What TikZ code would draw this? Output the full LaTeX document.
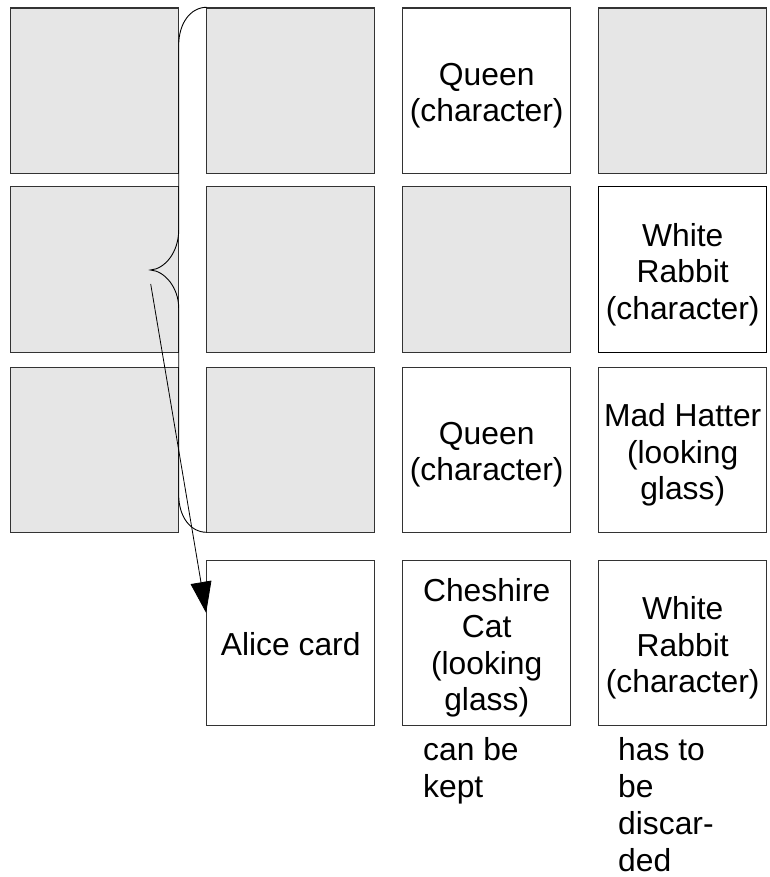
\documentclass[tikz,border=0pt]{standalone}
\usepackage{fontspec}
\setmainfont{Liberation Sans}
\usetikzlibrary{arrows.meta,calc}
\definecolor{cardgrey}{HTML}{E6E6E6}
\tikzset{
  card/.style={draw=black!80, line width=1.1pt, minimum width=168pt, minimum height=165.5pt,
    inner sep=0pt},
  cardtext/.style={align=center, inner sep=0pt, yshift=-5pt, font=\fontsize{31.8}{36.5}\selectfont},
  hidden/.style={card, fill=cardgrey},
  open/.style={card, fill=white},
  txt/.style={label={[cardtext]center:#1}},
  note/.style={inner sep=0pt, align=left, anchor=north west, font=\fontsize{31.8}{37}\selectfont},
  bracepath/.style={draw=black, line width=0.9pt},
  pointer/.style={draw=black, line width=0.8pt, -{Triangle[length=31pt,width=21pt]}}
}
\begin{document}
\begin{tikzpicture}[x=1pt,y=-1pt]
\useasboundingbox (0,0) rectangle (770,877);
% row 1
\node[hidden] (a1) at (94.3,90.8) {};
\node[hidden] (b1) at (290.7,90.8) {};
\node[open, txt={Queen\\(character)}] (c1) at (486.7,90.8) {};
\node[hidden] (d1) at (682.7,90.8) {};
% row 2
\node[hidden] (a2) at (94.3,269.5) {};
\node[hidden] (b2) at (290.7,269.5) {};
\node[hidden] (c2) at (486.7,269.5) {};
\node[open, draw=black, txt={White\\Rabbit\\(character)}] (d2) at (682.7,269.5) {};
% row 3
\node[hidden] (a3) at (94.3,449.8) {};
\node[hidden] (b3) at (290.7,449.8) {};
\node[open, txt={Queen\\(character)}] (c3) at (486.7,449.8) {};
\node[open, txt={Mad Hatter\\(looking\\glass)}] (d3) at (682.7,449.8) {};
% row 4
\node[open, label={[cardtext, yshift=4pt]center:Alice card}] (alice) at (290.7,642.9) {};
\node[open, txt={Cheshire\\Cat\\(looking\\glass)}] (c4) at (486.7,642.9) {};
\node[open, txt={White\\Rabbit\\(character)}] (d4) at (682.7,642.9) {};
% labels
\node[note] (keep) at (423,737) {can be\\kept};
\node[note] (discard) at (618,737) {has to\\be\\discar-\\ded};
% brace
\coordinate (btop) at (206.7,7.3);
\coordinate (bbot) at (206.7,532.3);
\coordinate (tip) at (150.5,270);
\path[bracepath] (btop) .. controls (190,7.3) and (178.7,24) .. (178.7,45)
  -- (178.7,230) .. controls (178.7,252) and (165,269) .. (tip)
  .. controls (165,271) and (178.7,288) .. (178.7,308)
  -- (178.7,495) .. controls (178.7,516) and (190,532.3) .. (bbot);
% arrow
\coordinate (astart) at (150.7,284);
\coordinate (aend) at ($(alice.west)+(0,-30)$);
\draw[pointer] (astart) -- (aend);
\end{tikzpicture}
\end{document}
